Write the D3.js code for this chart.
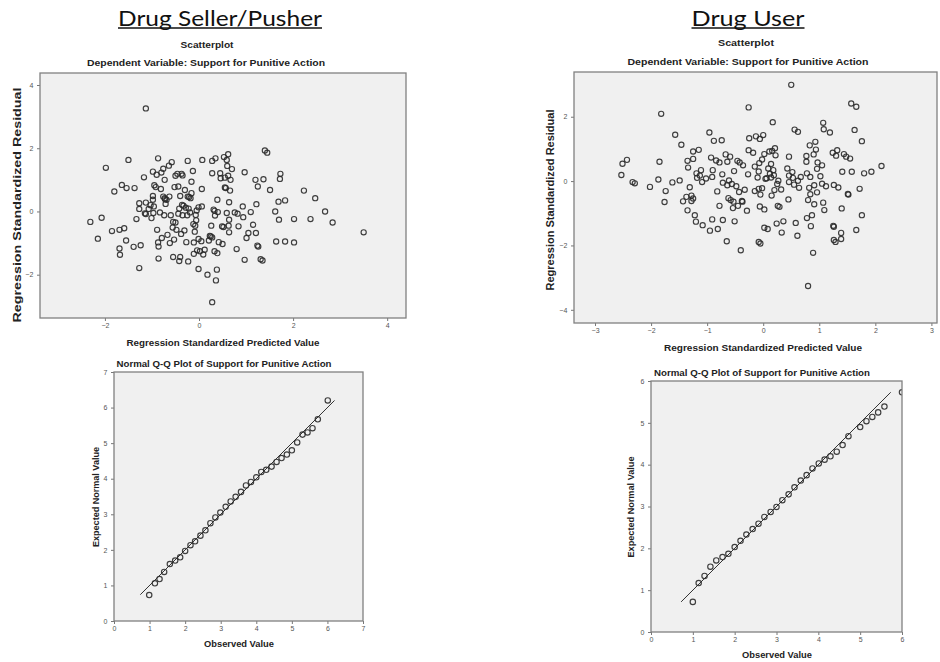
<!DOCTYPE html>
<html>
<head>
<meta charset="utf-8">
<script src="https://cdn.jsdelivr.net/npm/d3@7"></script>
<style>
  body { margin: 0; background: #fff; }
  svg text { font-family: "Liberation Sans", Arial, sans-serif; }
</style>
</head>
<body>
<script>
// residual plots: [standardized predicted, standardized residual]
const sellerScatter = [
  [-2.31,-0.33],[-2.15,-0.86],[-2.07,-0.2],[-1.98,1.38],[-1.85,-0.62],[-1.8,0.63],[-1.69,-0.58],[-1.69,-1.17],
  [-1.68,-1.37],[-1.64,0.84],[-1.59,-0.53],[-1.55,-0.92],[-1.54,0.74],[-1.5,1.63],[-1.39,-1.12],[-1.37,0.74],
  [-1.33,-0.24],[-1.27,0.26],[-1.27,0.08],[-1.27,-1.79],[-1.24,-1.07],[-1.17,1.08],[-1.15,-0.06],[-1.13,-0.08],
  [-1.13,0.28],[-1.13,3.26],[-1.07,0.08],[-1.03,0.2],[-1.01,-0.21],[-0.98,1.26],[-0.98,0.49],[-0.98,0.37],
  [-0.97,-0.05],[-0.96,0.16],[-0.95,0.83],[-0.92,0.77],[-0.9,1.16],[-0.89,-0.58],[-0.87,1.68],[-0.87,-0.98],
  [-0.86,-1.49],[-0.86,-1.11],[-0.83,-0.03],[-0.81,0.71],[-0.8,1.23],[-0.79,-0.84],[-0.76,0.47],[-0.76,1.35],
  [-0.74,-0.12],[-0.73,1.0],[-0.73,0.42],[-0.72,0.39],[-0.71,0.24],[-0.69,0.37],[-0.67,-0.74],[-0.64,1.45],
  [-0.63,0.47],[-0.62,-1.0],[-0.6,-0.12],[-0.58,1.56],[-0.56,-0.51],[-0.55,-0.33],[-0.55,-1.44],[-0.53,-0.89],
  [-0.52,0.77],[-0.5,1.13],[-0.5,-0.35],[-0.48,-0.58],[-0.46,1.19],[-0.44,0.79],[-0.44,-0.07],[-0.42,0.09],
  [-0.42,-1.57],[-0.4,-1.44],[-0.4,0.49],[-0.38,-0.71],[-0.37,1.19],[-0.36,0.21],[-0.35,1.14],[-0.35,-0.12],
  [-0.33,0.18],[-0.31,-0.6],[-0.3,0.68],[-0.28,0.12],[-0.27,-0.97],[-0.25,-0.12],[-0.24,1.6],[-0.24,0.47],
  [-0.23,-1.58],[-0.22,0.09],[-0.21,0.46],[-0.19,-0.03],[-0.18,0.42],[-0.16,0.94],[-0.16,0.58],[-0.13,1.28],
  [-0.12,-0.4],[-0.11,-1.34],[-0.11,-0.98],[-0.09,-0.64],[-0.08,-0.45],[-0.07,-0.11],[-0.06,-0.28],[-0.05,0.03],
  [-0.04,-1.23],[-0.01,-1.82],[-0.01,0.13],[-0.01,-0.87],[0.02,-1.26],[0.05,-0.94],[0.06,0.16],[0.06,0.71],
  [0.07,1.63],[0.09,-1.36],[0.12,-1.21],[0.18,-2.0],[0.21,-0.92],[0.23,-0.77],[0.25,-0.79],[0.26,-0.45],
  [0.28,1.6],[0.28,1.21],[0.28,-2.87],[0.28,-0.82],[0.31,0.06],[0.33,0.02],[0.33,-1.26],[0.34,-0.13],
  [0.35,1.68],[0.36,-2.18],[0.38,-1.84],[0.39,-1.32],[0.39,0.37],[0.4,-0.02],[0.42,-0.97],[0.45,1.21],
  [0.46,1.05],[0.49,-0.47],[0.5,-1.03],[0.52,-0.49],[0.53,1.72],[0.55,1.07],[0.55,0.76],[0.57,0.74],
  [0.59,-0.05],[0.59,1.63],[0.6,1.44],[0.62,1.81],[0.62,1.13],[0.63,-0.45],[0.64,-0.66],[0.64,-0.26],
  [0.64,0.29],[0.66,0.66],[0.67,1.0],[0.7,1.34],[0.76,-0.03],[0.8,-1.19],[0.82,-0.07],[0.84,-0.47],
  [0.93,0.16],[0.94,-0.18],[0.97,1.24],[0.97,-1.53],[1.01,-0.84],[1.05,-0.68],[1.1,-0.02],[1.15,-0.42],
  [1.2,1.0],[1.21,-0.68],[1.22,0.23],[1.24,-1.08],[1.25,0.79],[1.26,-1.11],[1.31,-1.51],[1.35,-1.55],
  [1.37,1.02],[1.4,1.93],[1.45,1.86],[1.51,0.68],[1.64,-0.95],[1.62,0.0],[1.69,0.31],[1.7,-0.26],
  [1.72,1.03],[1.73,1.19],[1.83,0.35],[1.83,-0.95],[2.02,-0.24],[2.02,-0.98],[2.23,0.66],[2.37,-0.24],
  [2.47,0.42],[2.68,0.0],[2.84,-0.35],[3.5,-0.66]
];

const userScatter = [
  [-2.53,0.19],[-2.51,0.54],[-2.43,0.66],[-2.33,-0.03],[-2.29,-0.07],[-2.02,-0.18],[-1.87,0.05],[-1.85,0.6],
  [-1.82,2.09],[-1.74,-0.31],[-1.76,-0.65],[-1.62,-0.04],[-1.57,1.44],[-1.49,0.02],[-1.46,1.13],[-1.43,-0.63],
  [-1.37,-0.49],[-1.35,0.63],[-1.34,0.42],[-1.35,-0.91],[-1.31,-0.19],[-1.28,-0.45],[-1.28,-0.62],[-1.25,0.69],
  [-1.25,0.92],[-1.25,-0.54],[-1.22,-1.06],[-1.2,-1.26],[-1.19,0.24],[-1.18,0.1],[-1.15,0.97],[-1.13,0.17],
  [-1.11,0.34],[-1.09,-0.03],[-1.08,-1.37],[-1.02,0.08],[-0.96,1.51],[-0.95,-1.54],[-0.93,0.73],[-0.91,0.13],
  [-0.91,-1.19],[-0.9,0.34],[-0.88,1.25],[-0.84,0.64],[-0.82,-0.32],[-0.81,-1.49],[-0.78,0.58],[-0.78,-0.77],
  [-0.74,1.27],[-0.73,0.21],[-0.72,-0.05],[-0.72,-1.21],[-0.67,0.83],[-0.65,-1.87],[-0.64,0.6],[-0.64,-0.13],
  [-0.62,-0.53],[-0.61,0.02],[-0.59,0.76],[-0.58,-0.59],[-0.56,-0.09],[-0.54,-0.84],[-0.53,-0.64],[-0.52,0.31],
  [-0.51,-1.25],[-0.48,-0.16],[-0.46,0.63],[-0.45,-0.77],[-0.43,-0.34],[-0.42,0.58],[-0.4,-2.15],[-0.38,-0.62],
  [-0.37,-0.64],[-0.36,0.49],[-0.33,-0.27],[-0.29,-0.92],[-0.27,0.21],[-0.26,0.96],[-0.26,2.29],[-0.25,1.33],
  [-0.18,0.88],[-0.15,0.45],[-0.15,-0.31],[-0.13,1.39],[-0.1,0.11],[-0.08,0.3],[-0.08,-0.24],[-0.07,0.56],
  [-0.06,1.31],[-0.05,-0.42],[-0.06,-0.79],[-0.08,-1.89],[-0.05,-1.94],[-0.02,0.67],[-0.02,-0.22],[0.0,1.43],
  [0.02,0.84],[0.02,-1.45],[0.02,-0.88],[0.04,0.07],[0.06,0.09],[0.08,-1.49],[0.09,0.39],[0.11,0.92],
  [0.12,0.23],[0.14,0.11],[0.14,0.53],[0.15,-0.45],[0.16,0.94],[0.17,1.83],[0.18,0.34],[0.19,0.18],
  [0.2,-0.28],[0.21,1.02],[0.22,0.8],[0.24,-1.32],[0.25,-0.09],[0.26,-0.77],[0.27,0.01],[0.29,-0.8],
  [0.32,-0.26],[0.33,-1.6],[0.36,-1.25],[0.43,0.39],[0.45,-0.57],[0.46,0.76],[0.46,0.17],[0.46,-0.03],
  [0.5,2.99],[0.52,0.28],[0.53,0.1],[0.55,-0.11],[0.56,1.6],[0.58,-1.3],[0.61,-1.7],[0.62,1.53],
  [0.62,0.01],[0.64,-0.21],[0.67,0.13],[0.77,0.6],[0.77,0.78],[0.78,-1.15],[0.78,0.24],[0.8,-0.59],
  [0.8,-3.26],[0.82,-0.21],[0.83,1.11],[0.84,0.13],[0.84,-0.41],[0.85,-1.4],[0.87,-1.06],[0.89,-2.23],
  [0.9,0.83],[0.91,-0.13],[0.91,-0.72],[0.93,1.22],[0.94,0.98],[0.96,0.38],[0.96,-0.35],[0.97,0.58],
  [1.02,0.15],[1.05,0.49],[1.05,-0.08],[1.07,1.81],[1.07,-0.67],[1.08,1.61],[1.09,-0.9],[1.12,-0.16],
  [1.19,1.51],[1.24,0.88],[1.25,-1.39],[1.26,-0.12],[1.26,-1.42],[1.26,-1.83],[1.29,-1.89],[1.3,0.79],
  [1.32,0.96],[1.34,-0.2],[1.39,-1.8],[1.39,-1.61],[1.4,-0.85],[1.41,0.29],[1.44,0.84],[1.48,0.76],
  [1.51,-0.4],[1.52,-0.42],[1.55,0.7],[1.57,2.41],[1.58,0.29],[1.63,1.59],[1.66,2.31],[1.66,-1.52],
  [1.72,-0.24],[1.76,1.24],[1.76,-1.06],[1.8,0.24],[1.93,0.29],[2.11,0.47]
];

// normal Q-Q: observed value, expected normal value
const sellerQQObserved = [0.99,1.15,1.28,1.41,1.57,1.72,1.86,2.0,2.15,2.28,2.43,2.57,2.71,2.85,2.99,3.14,3.28,3.42,
  3.57,3.71,3.85,4.0,4.14,4.28,4.43,4.57,4.71,4.86,5.0,5.15,5.3,5.44,5.58,5.73,6.01];
const sellerQQExpected = [0.73,1.06,1.18,1.38,1.6,1.7,1.79,1.97,2.13,2.24,2.4,2.55,2.75,2.91,3.05,3.21,3.36,3.49,
  3.63,3.81,3.91,4.04,4.19,4.25,4.34,4.47,4.58,4.68,4.8,5.02,5.24,5.3,5.42,5.67,6.2];
const sellerQQLine = [0.74, 6.2];

const userQQObserved = [1.0,1.14,1.28,1.42,1.56,1.71,1.85,2.0,2.14,2.28,2.43,2.57,2.71,2.86,3.0,3.14,3.29,3.43,
  3.58,3.72,3.86,4.01,4.15,4.29,4.44,4.58,4.72,5.0,5.15,5.29,5.43,5.58,6.0];
const userQQExpected = [0.72,1.17,1.34,1.56,1.71,1.79,1.87,2.03,2.18,2.33,2.46,2.59,2.75,2.87,2.99,3.15,3.29,3.46,
  3.62,3.75,3.91,4.03,4.12,4.2,4.31,4.47,4.68,4.9,5.04,5.14,5.25,5.39,5.73];
const userQQLine = [0.72, 5.73];

const svg = d3.select("body").append("svg")
  .attr("width", 940)
  .attr("height", 662);

function label(txt, x, y, size, len, opts = {}) {
  const t = svg.append("text")
    .attr("x", x).attr("y", y)
    .attr("text-anchor", "middle")
    .attr("dominant-baseline", "central")
    .attr("font-size", size)
    .attr("font-weight", opts.weight || "bold")
    .attr("fill", opts.fill || "#222")
    .attr("textLength", len)
    .attr("lengthAdjust", "spacingAndGlyphs")
    .text(txt);
  if (opts.rotate) t.attr("transform", `rotate(-90,${x},${y})`);
  if (opts.family) t.style("font-family", opts.family);
  return t;
}

function header(txt, cx, y, len) {
  label(txt, cx, y, 22, len, {weight: "normal", fill: "#111", family: "Lato, 'Open Sans', sans-serif"});
  svg.append("line")
    .attr("x1", cx - len / 2).attr("x2", cx + len / 2)
    .attr("y1", y + 11).attr("y2", y + 11)
    .attr("stroke", "#111").attr("stroke-width", 1.5);
}

// one SPSS-style panel
function panel(p) {
  const x = d3.scaleLinear().domain(p.xDomain).range([p.left, p.right]);
  const y = d3.scaleLinear().domain(p.yDomain).range([p.bottom, p.top]);
  const g = svg.append("g");

  g.append("rect")
    .attr("x", p.left).attr("y", p.top)
    .attr("width", p.right - p.left).attr("height", p.bottom - p.top)
    .attr("fill", "#f0f0f0");

  const clipId = "clip" + Math.round(p.left) + Math.round(p.top);
  g.append("clipPath").attr("id", clipId)
    .append("rect")
    .attr("x", p.left).attr("y", p.top)
    .attr("width", p.right - p.left).attr("height", p.bottom - p.top);

  const xAxis = g.append("g").attr("transform", `translate(0,${p.bottom})`)
    .call(d3.axisBottom(x).tickValues(p.xTicks).tickSize(3).tickSizeOuter(0).tickFormat(d3.format("d")));
  const yAxis = g.append("g").attr("transform", `translate(${p.left},0)`)
    .call(d3.axisLeft(y).tickValues(p.yTicks).tickSize(3).tickSizeOuter(0).tickFormat(d3.format("d")));
  [xAxis, yAxis].forEach(a => {
    a.select(".domain").remove();
    a.selectAll(".tick line").attr("stroke", "#777");
    a.selectAll(".tick text").attr("fill", "#555").attr("font-size", 7)
      .style("font-family", "'Liberation Sans', Arial, sans-serif");
  });
  xAxis.selectAll(".tick text").attr("dy", "0.5em");
  yAxis.selectAll(".tick text").attr("dx", "-0.1em");

  const plot = g.append("g").attr("clip-path", `url(#${clipId})`);
  if (p.line) {
    plot.append("line")
      .attr("x1", x(p.line[0])).attr("y1", y(p.line[0]))
      .attr("x2", x(p.line[1])).attr("y2", y(p.line[1]))
      .attr("stroke", "#333").attr("stroke-width", 1);
  }
  plot.selectAll("circle")
    .data(p.points)
    .join("circle")
    .attr("cx", d => x(d[0]))
    .attr("cy", d => y(d[1]))
    .attr("r", p.r)
    .attr("fill", "none")
    .attr("stroke", "#2a2a2a")
    .attr("stroke-opacity", 0.9)
    .attr("stroke-width", 1.15);

  g.append("rect")
    .attr("x", p.left).attr("y", p.top)
    .attr("width", p.right - p.left).attr("height", p.bottom - p.top)
    .attr("fill", "none").attr("stroke", "#808080").attr("stroke-width", 1.3);
}

// headers
header("Drug Seller/Pusher", 220, 17, 204);
header("Drug User", 748, 17, 113);

// top left: seller residuals
label("Scatterplot", 207, 45, 9, 53);
label("Dependent Variable: Support for Punitive Action", 206, 63, 9, 238);
panel({
  left: 40, right: 406, top: 73, bottom: 318,
  xDomain: [-3.38, 4.4], yDomain: [-3.37, 4.38],
  xTicks: [-2, 0, 2, 4], yTicks: [-2, 0, 2, 4],
  points: sellerScatter, r: 2.6
});
label("Regression Standardized Predicted Value", 223, 343, 9, 193);
label("Regression Standardized Residual", 17, 205, 10, 235, {rotate: true});

// top right: user residuals
label("Scatterplot", 746, 43, 9, 56);
label("Dependent Variable: Support for Punitive Action", 748, 62, 9, 241);
panel({
  left: 574, right: 937, top: 72, bottom: 323,
  xDomain: [-3.375, 3.1], yDomain: [-4.41, 3.39],
  xTicks: [-3, -2, -1, 0, 1, 2, 3], yTicks: [-4, -2, 0, 2],
  points: userScatter, r: 2.6
});
label("Regression Standardized Predicted Value", 763, 348, 9, 198);
label("Regression Standardized Residual", 550, 200, 10, 181, {rotate: true});

// bottom left: seller Q-Q
label("Normal Q-Q Plot of Support for Punitive Action", 224, 364, 9, 215);
panel({
  left: 114, right: 363, top: 372, bottom: 621,
  xDomain: [0, 7], yDomain: [0, 7],
  xTicks: d3.range(0, 8), yTicks: d3.range(0, 8),
  points: sellerQQObserved.map((v, i) => [v, sellerQQExpected[i]]),
  line: sellerQQLine, r: 2.7
});
label("Observed Value", 239, 644, 9, 70);
label("Expected Normal Value", 96, 497, 9, 100, {rotate: true});

// bottom right: user Q-Q
label("Normal Q-Q Plot of Support for Punitive Action", 762, 373, 9, 216);
panel({
  left: 651, right: 902, top: 381, bottom: 632,
  xDomain: [0, 6], yDomain: [0, 6],
  xTicks: d3.range(0, 7), yTicks: d3.range(0, 7),
  points: userQQObserved.map((v, i) => [v, userQQExpected[i]]),
  line: userQQLine, r: 2.7
});
label("Observed Value", 777, 655, 9, 70);
label("Expected Normal Value", 631, 507, 9, 101, {rotate: true});
</script>
</body>
</html>
